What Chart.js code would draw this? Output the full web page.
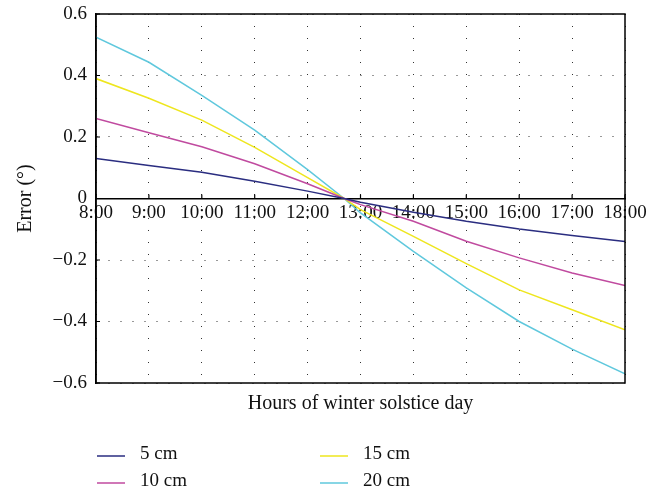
<!DOCTYPE html>
<html>
<head>
<meta charset="utf-8">
<script src="https://cdn.jsdelivr.net/npm/chart.js@4"></script>
<style>
  html, body { margin: 0; padding: 0; background: #fff; }
  #errChart { display: block; }
</style>
</head>
<body>
<canvas id="errChart" width="658" height="494"></canvas>
<script>
// hours of the day (12.69 is where all curves cross zero)
const hours = [8, 9, 10, 11, 12, 12.69, 13, 14, 15, 16, 17, 18];
const seriesNames = ["5 cm", "10 cm", "15 cm", "20 cm"];
const err5 = [0.13, 0.107, 0.085, 0.056, 0.024, 0, -0.012, -0.045, -0.074, -0.099, -0.12, -0.14];
const err10 = [0.26, 0.214, 0.168, 0.113, 0.048, 0, -0.02, -0.074, -0.139, -0.193, -0.242, -0.283];
const err15 = [0.39, 0.326, 0.255, 0.166, 0.068, 0, -0.036, -0.123, -0.212, -0.297, -0.362, -0.427];
const err20 = [0.525, 0.443, 0.335, 0.222, 0.094, 0, -0.047, -0.172, -0.291, -0.4, -0.49, -0.57];
const yTicks = [-0.6, -0.4, -0.2, 0, 0.2, 0.4, 0.6];

const colors = ["#2a2d80", "#c04a9f", "#eee61e", "#5fc8dd"];
const FONT = "'Liberation Serif', 'DejaVu Serif', serif";

function toPoints(vals) {
  return hours.map((h, i) => ({ x: h, y: vals[i] }));
}

const allSeries = [err5, err10, err15, err20];
const datasets = allSeries.map((vals, i) => ({
  label: seriesNames[i],
  data: toPoints(vals),
  borderColor: colors[i],
  backgroundColor: colors[i],
  borderWidth: 1.5,
  pointRadius: 0,
  tension: 0,
  fill: false
}));

// frame, small inward ticks and the bottom legend
const framePlugin = {
  id: "frame",
  afterDraw(chart) {
    const ctx = chart.ctx;
    const a = chart.chartArea;
    const xs = chart.scales.x;
    const ys = chart.scales.y;
    ctx.save();
    ctx.strokeStyle = "#000";
    ctx.lineWidth = 1.5;
    ctx.strokeRect(a.left, a.top, a.right - a.left, a.bottom - a.top);
    ctx.lineWidth = 1.2;
    ctx.beginPath();
    yTicks.forEach(v => {
      const py = ys.getPixelForValue(v);
      ctx.moveTo(a.left, py);
      ctx.lineTo(a.left + 4, py);
    });
    const y0 = ys.getPixelForValue(0);
    for (let h = 8; h <= 18; h++) {
      const px = xs.getPixelForValue(h);
      ctx.moveTo(px, y0);
      ctx.lineTo(px, y0 - 4);
    }
    ctx.stroke();

    // legend, two columns
    const cols = [a.left + 1, a.left + 224];
    const rows = [a.bottom + 73, a.bottom + 100];
    ctx.font = "19px " + FONT;
    ctx.textBaseline = "middle";
    ctx.fillStyle = "#111";
    chart.data.datasets.forEach((ds, i) => {
      const cx = cols[Math.floor(i / 2)];
      const cy = rows[i % 2];
      ctx.strokeStyle = ds.borderColor;
      ctx.lineWidth = 1.5;
      ctx.beginPath();
      ctx.moveTo(cx, cy);
      ctx.lineTo(cx + 28, cy);
      ctx.stroke();
      ctx.fillText(ds.label, cx + 43, cy - 1.5);
    });
    ctx.restore();
  }
};

const gridColor = "#333";

new Chart(document.getElementById("errChart"), {
  type: "line",
  data: { datasets: datasets },
  options: {
    responsive: false,
    animation: false,
    layout: { padding: { left: 0, top: 14, right: 33, bottom: 78 } },
    plugins: {
      legend: { display: false },
      tooltip: { enabled: false }
    },
    scales: {
      x: {
        type: "linear",
        position: { y: 0 },
        min: 8,
        max: 18,
        ticks: {
          stepSize: 1,
          padding: 3,
          color: "#111",
          font: { family: FONT, size: 19 },
          maxRotation: 0,
          callback: v => v + ":00"
        },
        grid: {
          color: gridColor,
          lineWidth: 1,
          drawTicks: false
        },
        border: { display: true, color: "#000", width: 1.5, dash: [1, 11] }
      },
      xTitle: {
        type: "linear",
        axis: "x",
        position: "bottom",
        min: 8,
        max: 18,
        ticks: { display: false },
        grid: { display: false, drawTicks: false },
        border: { display: false },
        title: {
          display: true,
          text: "Hours of winter solstice day",
          color: "#111",
          font: { family: FONT, size: 20 },
          padding: { top: 9, bottom: 0 }
        }
      },
      y: {
        min: -0.6,
        max: 0.6,
        afterFit: s => {
          s.width = 96;
          s.paddingTop = 0;
          s.paddingBottom = 0;
        },
        afterBuildTicks: s => { s.ticks = yTicks.map(v => ({ value: v })); },
        ticks: {
          padding: 9,
          color: "#111",
          font: { family: FONT, size: 19 },
          callback: v => {
            const r = Math.round(v * 10) / 10;
            if (r === 0) return "0";
            return r.toFixed(1).replace("-", "\u2212");
          }
        },
        grid: {
          color: gridColor,
          lineWidth: 1,
          drawTicks: false
        },
        border: { display: true, color: "#000", width: 1.5, dash: [1, 11] },
        title: {
          display: true,
          text: "Error (\u00b0)",
          color: "#111",
          font: { family: FONT, size: 20 },
          padding: { top: 14, bottom: 0 }
        }
      }
    }
  },
  plugins: [framePlugin]
});
</script>
</body>
</html>
